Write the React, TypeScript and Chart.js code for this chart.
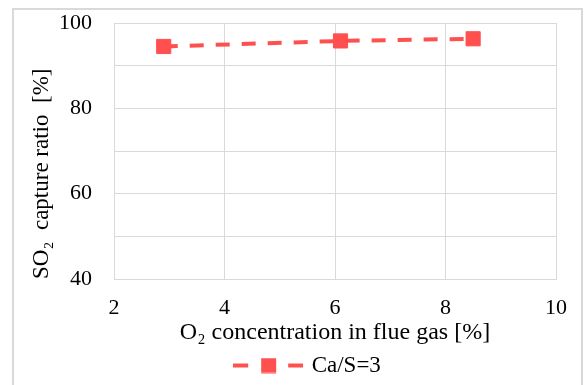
import { useEffect, useRef } from 'react';
import { Chart, registerables } from 'chart.js';

Chart.register(...registerables);

// O2 concentration in flue gas [%] and the matching SO2 capture ratio [%]
const o2Concentration = [2.9, 6.1, 8.5];
const so2CaptureRatio = [94.5, 95.8, 96.3];
const seriesLabel = 'Ca/S=3';

const xAxisTitle = 'O\u2082 concentration in flue gas [%]';
const yAxisTitle = 'SO\u2082  capture ratio  [%]';
const xRange = { min: 2, max: 10, step: 2 };
const yRange = { min: 40, max: 100, step: 10, labelStep: 20 };

const RED = '#FF5050';
const GRID = '#d9d9d9';
const FONT = "'Liberation Serif', 'Times New Roman', serif";

// Legend sample: dashed line with the square marker in the middle
function makeLegendSample(): HTMLCanvasElement {
  const c = document.createElement('canvas');
  c.width = 70;
  c.height = 16;
  const ctx = c.getContext('2d')!;
  ctx.fillStyle = RED;
  ctx.fillRect(0, 6, 15, 4);
  ctx.fillRect(55, 6, 15, 4);
  ctx.fillRect(28, 0.5, 15, 15);
  return c;
}

export default function App() {
  const canvasRef = useRef<HTMLCanvasElement | null>(null);

  useEffect(() => {
    if (!canvasRef.current) return;
    const sample = makeLegendSample();
    const points = o2Concentration.map((x, i) => ({ x, y: so2CaptureRatio[i] }));

    const chart = new Chart(canvasRef.current, {
      type: 'line',
      data: {
        datasets: [
          {
            label: seriesLabel,
            data: points,
            borderColor: RED,
            backgroundColor: RED,
            borderWidth: 4,
            borderDash: [14, 12],
            pointStyle: 'rect',
            pointRadius: 10,
            pointHoverRadius: 10,
            pointBackgroundColor: RED,
            pointBorderColor: RED,
            pointBorderWidth: 1,
            tension: 0,
          },
        ],
      },
      options: {
        responsive: false,
        animation: false,
        events: [],
        layout: { padding: { left: 27, right: -5, top: 23, bottom: -2 } },
        scales: {
          x: {
            type: 'linear',
            min: xRange.min,
            max: xRange.max,
            ticks: {
              stepSize: xRange.step,
              color: '#000',
              font: { family: FONT, size: 22 },
              padding: 16,
              maxRotation: 0,
            },
            grid: { color: GRID, lineWidth: 1, drawTicks: false },
            border: { color: GRID, width: 1 },
            title: {
              display: true,
              text: xAxisTitle,
              color: '#000',
              font: { family: FONT, size: 24 },
              padding: { top: 0, bottom: 3 },
            },
            afterFit: (scale: any) => {
              scale.height = 71;
              scale.paddingLeft = 0;
              scale.paddingRight = 29;
            },
          },
          y: {
            type: 'linear',
            min: yRange.min,
            max: yRange.max,
            ticks: {
              stepSize: yRange.step,
              color: '#000',
              font: { family: FONT, size: 22 },
              padding: 22,
              callback: (v: any) => (Number(v) % yRange.labelStep === 0 ? String(v) : ''),
            },
            grid: { color: GRID, lineWidth: 1, drawTicks: false },
            border: { color: GRID, width: 1 },
            title: {
              display: true,
              text: yAxisTitle,
              align: 'start',
              color: '#000',
              font: { family: FONT, size: 23 },
              padding: { top: 1, bottom: 0 },
            },
            afterFit: (scale: any) => {
              scale.width = 87;
              scale.paddingTop = 0;
              scale.paddingBottom = 0;
            },
          },
        },
        plugins: {
          tooltip: { enabled: false },
          legend: {
            display: true,
            position: 'bottom',
            labels: {
              usePointStyle: true,
              pointStyleWidth: 64,
              padding: 4,
              color: '#000',
              font: { family: FONT, size: 23 },
              generateLabels: (ch: any) => {
                const items = Chart.defaults.plugins.legend.labels.generateLabels(ch);
                items.forEach((it: any) => {
                  it.pointStyle = sample;
                  it.lineDash = [];
                });
                return items;
              },
            },
          },
        },
      },
    });
    return () => chart.destroy();
  }, []);

  return (
    <div style={{ position: 'fixed', left: 0, top: 0, width: 585, height: 385, background: '#fff', overflow: 'hidden' }}>
      <canvas ref={canvasRef} width={585} height={385} style={{ display: 'block', width: 585, height: 385 }} />
      <div
        style={{
          position: 'absolute',
          left: 12,
          top: 8,
          width: 567,
          height: 400,
          border: `2px solid ${GRID}`,
          pointerEvents: 'none',
        }}
      />
    </div>
  );
}
